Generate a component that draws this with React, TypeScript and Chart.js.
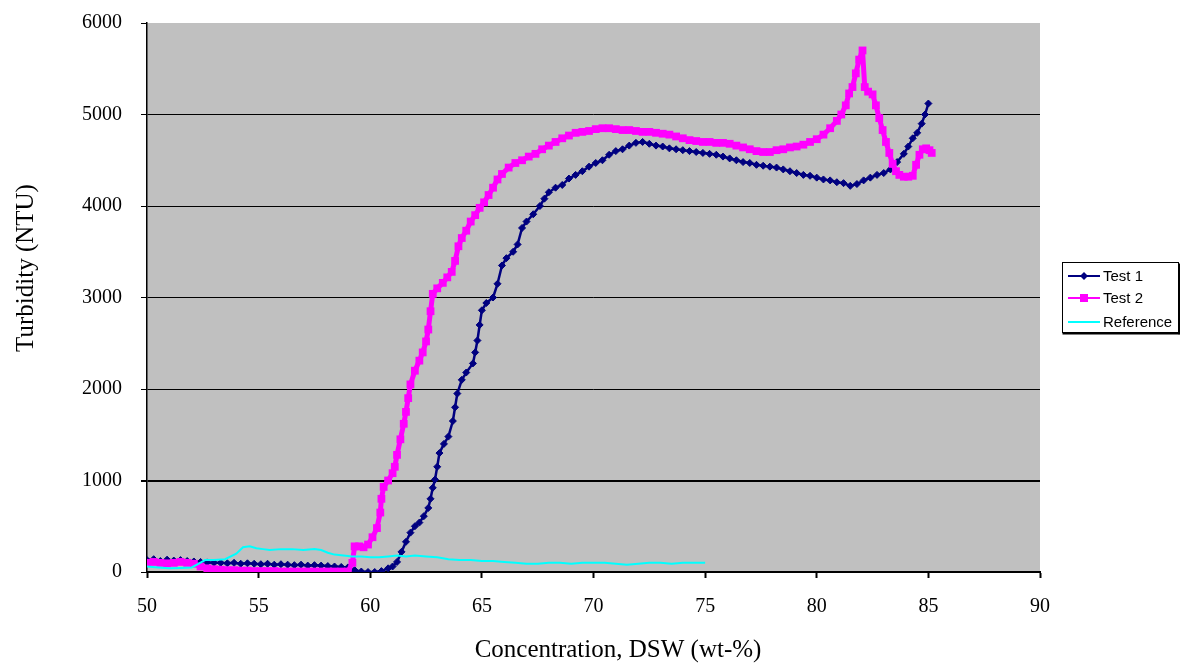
import React, { useEffect, useRef } from "react";
import { Chart, registerables } from "chart.js";

Chart.register(...registerables);

const xTickValues = [50, 55, 60, 65, 70, 75, 80, 85, 90];
const yTickValues = [0, 1000, 2000, 3000, 4000, 5000, 6000];

const seriesNames = ["Test 1", "Test 2", "Reference"];

const test1X = [
  50.0, 50.3, 50.6, 50.9, 51.2, 51.5, 51.8, 52.1, 52.4, 52.7, 53.0, 53.3, 53.6, 53.9, 54.2, 54.5, 54.8, 55.1, 55.4, 55.7,
  56.0, 56.3, 56.6, 56.9, 57.2, 57.5, 57.8, 58.1, 58.4, 58.7, 59.0, 59.3, 59.6, 59.9, 60.2, 60.5, 60.8, 61.0, 61.2, 61.4,
  61.6, 61.8, 62.0, 62.2, 62.4, 62.6, 62.7, 62.8, 62.9, 63.0, 63.1, 63.3, 63.5, 63.7, 63.8, 63.9, 64.1, 64.3, 64.6, 64.7,
  64.8, 64.9, 65.0, 65.2, 65.5, 65.7, 65.9, 66.1, 66.4, 66.6, 66.8, 67.0, 67.3, 67.6, 67.8, 68.0, 68.3, 68.6, 68.9, 69.2,
  69.5, 69.8, 70.1, 70.4, 70.7, 71.0, 71.3, 71.6, 71.9, 72.2, 72.5, 72.8, 73.1, 73.4, 73.7, 74.0, 74.3, 74.6, 74.9, 75.2,
  75.5, 75.8, 76.1, 76.4, 76.7, 77.0, 77.3, 77.6, 77.9, 78.2, 78.5, 78.8, 79.1, 79.4, 79.7, 80.0, 80.3, 80.6, 80.9, 81.2,
  81.5, 81.8, 82.1, 82.4, 82.7, 83.0, 83.3, 83.6, 83.9, 84.1, 84.3, 84.5, 84.7, 84.85, 85.0,
];
const test1Y = [
  130, 140, 120, 135, 125, 130, 120, 115, 110, 105, 100, 100, 95, 100, 90, 95, 90, 85, 90, 80,
  85, 80, 75, 80, 70, 75, 70, 65, 60, 55, 50, 20, 5, 0, 0, 10, 40, 60, 110, 220,
  330, 430, 500, 540, 610, 700, 800, 920, 1010, 1150, 1300, 1400, 1480, 1650, 1800, 1950, 2100, 2180, 2280, 2400,
  2530, 2700, 2860, 2940, 3000, 3150, 3350, 3430, 3500, 3580, 3760, 3830, 3910, 4000, 4080, 4150, 4200, 4230, 4300, 4340,
  4380, 4430, 4470, 4500, 4560, 4600, 4620, 4660, 4690, 4700, 4680, 4660, 4650, 4630, 4620, 4610, 4600, 4590, 4580, 4570,
  4560, 4540, 4520, 4500, 4480, 4470, 4450, 4440, 4430, 4420, 4400, 4380, 4360, 4340, 4330, 4310, 4290, 4280, 4260, 4250,
  4220, 4240, 4280, 4310, 4340, 4360, 4400, 4480, 4570, 4650, 4740, 4800, 4900, 5000, 5120,
];

const test2X = [
  50.0, 50.3, 50.6, 50.9, 51.2, 51.5, 51.8, 52.1, 52.4, 52.7, 53.0, 53.3, 53.6, 53.9, 54.2, 54.5, 54.8, 55.1, 55.4, 55.7,
  56.0, 56.3, 56.6, 56.9, 57.2, 57.5, 57.8, 58.1, 58.4, 58.7, 59.0, 59.2, 59.3, 59.5, 59.7, 59.9, 60.1, 60.3, 60.45, 60.5,
  60.6, 60.8, 61.0, 61.1, 61.2, 61.35, 61.5, 61.6, 61.7, 61.8, 62.0, 62.2, 62.35, 62.5, 62.6, 62.7, 62.8, 63.0, 63.25, 63.45,
  63.65, 63.8, 63.95, 64.1, 64.3, 64.5, 64.7, 64.9, 65.1, 65.3, 65.5, 65.7, 65.9, 66.2, 66.5, 66.8, 67.1, 67.4, 67.7, 68.0,
  68.3, 68.6, 68.9, 69.2, 69.5, 69.8, 70.1, 70.4, 70.7, 71.0, 71.3, 71.6, 71.9, 72.2, 72.5, 72.8, 73.1, 73.4, 73.7, 74.0,
  74.3, 74.6, 74.9, 75.2, 75.5, 75.8, 76.1, 76.4, 76.7, 77.0, 77.3, 77.6, 77.9, 78.2, 78.5, 78.8, 79.1, 79.4, 79.7, 80.0,
  80.3, 80.6, 80.9, 81.1, 81.3, 81.45, 81.6, 81.75, 81.9, 82.05, 82.15, 82.3, 82.5, 82.65, 82.8, 82.95, 83.1, 83.25, 83.4, 83.55,
  83.7, 83.9, 84.1, 84.3, 84.45, 84.6, 84.75, 84.9, 85.05, 85.15,
];
const test2Y = [
  100, 110, 100, 95, 100, 110, 100, 90, 60, 40, 30, 25, 20, 20, 15, 15, 10, 10, 10, 10,
  5, 5, 5, 5, 5, 5, 5, 5, 5, 5, 5, 100, 280, 280, 270, 300, 380, 480, 650, 800,
  930, 1000, 1080, 1150, 1280, 1450, 1620, 1750, 1900, 2050, 2200, 2310, 2400, 2520, 2650, 2850, 3040, 3100, 3160, 3220,
  3280, 3400, 3560, 3650, 3730, 3830, 3900, 3980, 4040, 4120, 4200, 4290, 4350, 4420, 4470, 4500, 4540, 4570, 4620, 4660,
  4700, 4740, 4770, 4800, 4810, 4820, 4840, 4850, 4850, 4840, 4830, 4830, 4820, 4810, 4810, 4800, 4790, 4780, 4760, 4740,
  4720, 4710, 4700, 4700, 4690, 4690, 4680, 4660, 4640, 4620, 4600, 4590, 4590, 4610, 4620, 4640, 4650, 4670, 4700, 4730,
  4780, 4850, 4930, 5000, 5100, 5230, 5300, 5450, 5600, 5700, 5300, 5250, 5220, 5100, 4960, 4830, 4700, 4580, 4460, 4380,
  4340, 4320, 4320, 4330, 4450, 4560, 4620, 4630, 4610, 4580,
];

const refX = [
  50.0, 50.5, 51.0, 51.5, 52.0, 52.3, 52.6, 53.0, 53.5, 54.0, 54.3, 54.6, 54.9, 55.2, 55.5, 56.0, 56.5, 57.0, 57.5, 57.8,
  58.1, 58.4, 58.8, 59.2, 59.6, 60.0, 60.4, 60.8, 61.2, 61.6, 62.0, 62.5, 63.0, 63.5, 64.0, 64.5, 65.0, 65.5, 66.0, 66.5,
  67.0, 67.5, 68.0, 68.5, 69.0, 69.5, 70.0, 70.5, 71.0, 71.5, 72.0, 72.5, 73.0, 73.5, 74.0, 74.5, 75.0,
];
const refY = [
  60, 50, 40, 45, 50, 90, 130, 130, 140, 200, 270, 280, 260, 250, 240, 250, 250, 240, 250, 240,
  210, 190, 180, 170, 170, 160, 160, 170, 180, 170, 180, 170, 160, 140, 130, 130, 120, 120, 110, 100,
  90, 90, 100, 100, 90, 100, 100, 100, 90, 80, 90, 100, 100, 90, 100, 100, 100,
];

const xTitle = "Concentration, DSW (wt-%)";
const yTitle = "Turbidity (NTU)";

const NAVY = "#000080";
const MAGENTA = "#FF00FF";
const CYAN = "#00FFFF";

function pts(xs: number[], ys: number[]) {
  return xs.map((x, i) => ({ x, y: ys[i] }));
}

const bgPlugin = {
  id: "plotBg",
  beforeDraw(chart: any) {
    const { ctx, chartArea } = chart;
    ctx.save();
    ctx.fillStyle = "#ffffff";
    ctx.fillRect(0, 0, chart.width, chart.height);
    ctx.fillStyle = "#C0C0C0";
    ctx.fillRect(chartArea.left, chartArea.top, chartArea.right - chartArea.left, chartArea.bottom - chartArea.top);
    ctx.restore();
  },
};

const overlayPlugin = {
  id: "overlay",
  afterDraw(chart: any) {
    const { ctx } = chart;
    ctx.save();
    ctx.fillStyle = "#000";
    ctx.font = "25px 'Liberation Serif', 'Times New Roman', serif";
    ctx.textAlign = "center";
    ctx.textBaseline = "middle";
    ctx.fillText(xTitle, 618, 650);
    ctx.translate(26, 268);
    ctx.rotate(-Math.PI / 2);
    ctx.fillText(yTitle, 0, 0);
    ctx.restore();

    ctx.save();
    const bx = 1062.5, by = 262.5, bw = 116, bh = 70;
    ctx.fillStyle = "#ffffff";
    ctx.fillRect(bx, by, bw, bh);
    ctx.strokeStyle = "#000";
    ctx.lineWidth = 1;
    ctx.strokeRect(bx, by, bw, bh);
    ctx.fillStyle = "#000";
    ctx.fillRect(bx, by + bh, bw + 1, 2);
    ctx.fillRect(bx + bw, by + 1, 2, bh + 1);

    const rows = [
      { y: 276, color: NAVY, marker: "diamond", lw: 2 },
      { y: 298, color: MAGENTA, marker: "square", lw: 2 },
      { y: 322, color: CYAN, marker: "none", lw: 2 },
    ];
    rows.forEach((r, i) => {
      ctx.strokeStyle = r.color;
      ctx.lineWidth = r.lw;
      ctx.beginPath();
      ctx.moveTo(1068, r.y);
      ctx.lineTo(1100, r.y);
      ctx.stroke();
      ctx.fillStyle = r.color;
      if (r.marker === "diamond") {
        ctx.beginPath();
        ctx.moveTo(1084, r.y - 4);
        ctx.lineTo(1088, r.y);
        ctx.lineTo(1084, r.y + 4);
        ctx.lineTo(1080, r.y);
        ctx.closePath();
        ctx.fill();
      } else if (r.marker === "square") {
        ctx.fillRect(1080, r.y - 4, 8, 8);
      }
      ctx.fillStyle = "#000";
      ctx.font = "15px 'Liberation Sans', Arial, sans-serif";
      ctx.textAlign = "left";
      ctx.textBaseline = "middle";
      ctx.fillText(seriesNames[i], 1103, r.y + 1);
    });
    ctx.restore();
  },
};

export default function App() {
  const canvasRef = useRef<HTMLCanvasElement | null>(null);

  useEffect(() => {
    const canvas = canvasRef.current;
    if (!canvas) return;
    const tickFont = { family: "'Liberation Serif', 'Times New Roman', serif", size: 20 };
    const chart = new Chart(canvas, {
      type: "line",
      data: {
        datasets: [
          {
            label: seriesNames[0],
            data: pts(test1X, test1Y),
            borderColor: NAVY,
            backgroundColor: NAVY,
            borderWidth: 2.5,
            borderJoinStyle: "round",
            pointStyle: "rectRot",
            pointRadius: 3.5,
            pointBorderWidth: 1,
            pointBorderColor: NAVY,
            pointBackgroundColor: NAVY,
            order: 3,
          },
          {
            label: seriesNames[1],
            data: pts(test2X, test2Y),
            borderColor: MAGENTA,
            backgroundColor: MAGENTA,
            borderWidth: 5,
            borderJoinStyle: "round",
            pointStyle: "rect",
            pointRadius: 5.5,
            pointBorderWidth: 0,
            pointBackgroundColor: MAGENTA,
            order: 2,
          },
          {
            label: seriesNames[2],
            data: pts(refX, refY),
            borderColor: CYAN,
            backgroundColor: CYAN,
            borderWidth: 2,
            pointRadius: 0,
            order: 1,
          },
        ],
      },
      options: {
        animation: false,
        responsive: false,
        devicePixelRatio: 1,
        layout: { padding: { top: 23, right: 140, left: 0, bottom: 0 } },
        plugins: {
          legend: { display: false },
          tooltip: { enabled: false },
          title: { display: false },
        },
        scales: {
          x: {
            type: "linear",
            min: 50,
            max: 90,
            afterBuildTicks: (scale: any) => {
              scale.ticks = xTickValues.map((v) => ({ value: v }));
            },
            afterFit: (scale: any) => {
              scale.height = 96;
              scale.paddingLeft = 0;
              scale.paddingRight = 0;
            },
            grid: {
              drawOnChartArea: false,
              drawTicks: true,
              tickLength: 6,
              tickColor: "#000",
              tickWidth: 2,
            },
            border: { display: true, color: "#000", width: 2 },
            ticks: {
              font: tickFont,
              color: "#000",
              padding: 17,
              maxRotation: 0,
              autoSkip: false,
              callback: (v: any) => String(v),
            },
            title: { display: false },
          },
          y: {
            type: "linear",
            min: 0,
            max: 6000,
            afterBuildTicks: (scale: any) => {
              scale.ticks = yTickValues.map((v) => ({ value: v }));
            },
            afterFit: (scale: any) => {
              scale.width = 147;
              scale.paddingTop = 0;
              scale.paddingBottom = 0;
            },
            grid: {
              drawOnChartArea: true,
              drawTicks: true,
              tickLength: 6,
              tickColor: "#000",
              color: (c: any) => {
                const v = c.tick ? c.tick.value : null;
                if (v === 6000 || v === 0) return "rgba(0,0,0,0)";
                return "#000";
              },
              lineWidth: (c: any) => (c.tick && c.tick.value === 1000 ? 2 : 1),
            },
            border: { display: true, color: "#000", width: 1.5 },
            ticks: {
              font: tickFont,
              color: "#000",
              padding: 19,
              autoSkip: false,
              callback: (v: any) => String(v),
            },
            title: { display: false },
          },
        },
      },
      plugins: [bgPlugin, overlayPlugin],
    } as any);
    return () => {
      chart.destroy();
    };
  }, []);

  return (
    <div style={{ position: "absolute", left: 0, top: 0, width: 1180, height: 668, background: "#fff" }}>
      <canvas ref={canvasRef} width={1180} height={668} style={{ display: "block" }} />
    </div>
  );
}
